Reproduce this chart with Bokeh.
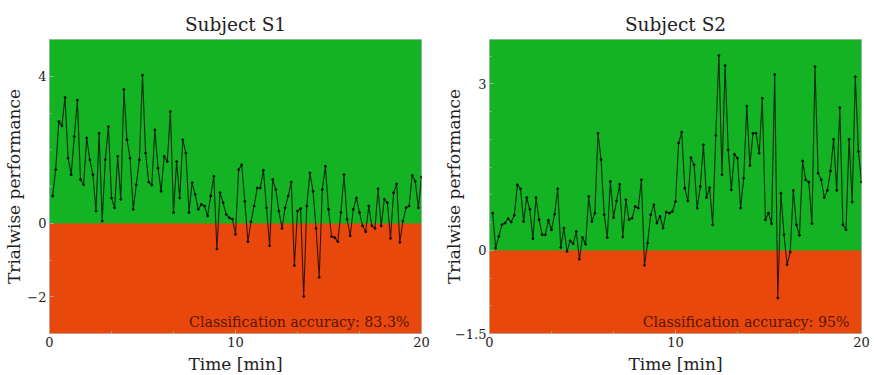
from bokeh.plotting import figure
from bokeh.layouts import row
from bokeh.models import BoxAnnotation, Label, FixedTicker, Range1d
from bokeh.embed import file_html
from bokeh.resources import INLINE

# Trialwise classifier output, one value per trial (10 s per trial, 20 min session)
s1_perf = [
    0.74, 1.46, 2.77, 2.65, 3.42, 1.77, 1.32, 2.36, 3.35, 1.19,
    1.05, 2.32, 1.73, 1.32, 0.33, 2.45, 0.06, 1.73, 2.63, 0.69,
    0.42, 1.82, 0.65, 3.64, 2.27, 1.77, 0.38, 1.05, 1.73, 4.03,
    1.91, 1.12, 1.04, 2.54, 1.50, 0.87, 1.82, 1.68, 3.04, 0.29,
    1.68, 0.69, 2.27, 1.91, 0.29, 1.10, 0.78, 0.38, 0.51, 0.47,
    0.20, 0.74, 1.28, -0.70, 0.83, 0.56, 0.24, 0.15, 0.11, -0.30,
    1.46, 1.59, 0.60, -0.50, 0.04, 0.47, 0.96, 0.96, 1.44, 0.42,
    -0.61, 1.19, 0.92, 0.33, -0.14, 0.42, 0.74, 1.12, -1.15, 0.33,
    0.40, -1.99, 0.47, 1.37, 0.87, -0.14, -1.47, 0.92, 1.55, 0.38,
    -0.36, -0.39, -0.50, 0.29, 1.32, 0.11, -0.34, 0.38, 0.69, 0.29,
    -0.07, -0.23, 0.47, -0.07, -0.14, 0.94, -0.07, 0.65, 0.56, -0.41,
    0.83, 1.07, -0.52, 0.06, 0.42, 0.47, 1.30, 1.14, 0.42, 1.26,
]
s2_perf = [
    0.67, 0.04, 0.25, 0.46, 0.49, 0.57, 0.51, 0.63, 1.18, 1.11,
    0.52, 0.95, 0.74, 0.21, 0.95, 0.55, 0.28, 0.28, 0.54, 0.37,
    0.65, 1.11, 0.05, 0.40, -0.02, 0.17, 0.12, 0.34, -0.16, 0.23,
    0.11, 0.97, 0.52, 0.67, 2.11, 1.63, 0.64, 0.23, 1.24, 0.59,
    0.89, 1.19, 0.24, 0.91, 0.55, 0.58, 0.79, 0.76, 1.27, -0.27,
    0.13, 0.64, 0.82, 0.49, 0.61, 0.40, 0.69, 0.67, 0.70, 0.88,
    1.93, 2.13, 1.12, 0.89, 1.67, 1.54, 0.76, 1.15, 1.90, 0.95,
    1.13, 0.46, 2.07, 3.51, 1.36, 3.33, 1.81, 1.09, 1.73, 1.66,
    0.76, 1.30, 2.60, 1.53, 2.11, 2.11, 1.75, 2.74, 0.55, 0.67,
    0.48, 3.17, -0.86, 1.03, 0.28, -0.26, -0.03, 1.08, 0.46, 0.27,
    1.61, 1.27, 1.23, 0.48, 3.31, 1.39, 1.27, 0.95, 1.08, 1.43,
    2.00, 1.08, 2.57, 0.46, 0.37, 2.00, 0.87, 3.13, 1.78, 1.23,
]

session_min = 20
x_major = [0, 10, 20]
x_minor = [10 / 3, 20 / 3, 40 / 3, 50 / 3]

GREEN = "#13b324"
RED = "#e8480b"
SERIF = "DejaVu Serif"
INK = "#1e1e1e"


def accuracy_text(perf):
    acc = 100.0 * sum(1 for v in perf if v > 0) / len(perf)
    s = f"{acc:.1f}".rstrip("0").rstrip(".")
    return f"Classification accuracy: {s}%"


def style_axis(ax, label_standoff):
    ax.axis_line_color = None
    ax.major_tick_in = 4
    ax.major_tick_out = 0
    ax.minor_tick_in = 2
    ax.minor_tick_out = 0
    ax.major_tick_line_color = "#a8a8a8"
    ax.minor_tick_line_color = "#a8a8a8"
    ax.major_label_text_font = SERIF
    ax.major_label_text_font_size = "13px"
    ax.major_label_text_color = INK
    ax.major_label_standoff = 3
    ax.axis_label_text_font = SERIF
    ax.axis_label_text_font_size = "17px"
    ax.axis_label_text_font_style = "normal"
    ax.axis_label_text_color = INK
    ax.axis_label_standoff = label_standoff


def panel(title, perf, y_lo, y_hi, y_major, y_minor, label_y, border_right, ylab_standoff):
    n = len(perf)
    t = [(i + 1) * session_min / n for i in range(n)]

    p = figure(
        frame_width=372, frame_height=294,
        x_range=Range1d(0, session_min), y_range=Range1d(y_lo, y_hi),
        min_border_left=49, min_border_right=border_right,
        min_border_top=39, min_border_bottom=42,
        output_backend="svg", toolbar_location=None, title=title,
    )
    p.background_fill_color = GREEN
    p.border_fill_color = "white"
    p.outline_line_color = "#b8b8b8"
    p.grid.grid_line_color = None

    p.title.align = "center"
    p.title.text_font = SERIF
    p.title.text_font_size = "18.5px"
    p.title.text_font_style = "normal"
    p.title.text_color = INK

    p.add_layout(BoxAnnotation(top=0, fill_color=RED, fill_alpha=1.0,
                               line_color=None, level="underlay"))
    p.add_layout(BoxAnnotation(bottom=0, fill_color=GREEN, fill_alpha=1.0,
                               line_color=None, level="underlay"))

    p.xaxis.ticker = FixedTicker(ticks=x_major, minor_ticks=x_minor)
    p.yaxis.ticker = FixedTicker(ticks=y_major, minor_ticks=y_minor)
    p.xaxis.axis_label = "Time [min]"
    p.yaxis.axis_label = "Trialwise performance"
    style_axis(p.xaxis[0], 4)
    style_axis(p.yaxis[0], ylab_standoff)

    p.line(t, perf, line_color="black", line_width=1.1, line_alpha=0.75)
    p.scatter(t, perf, size=2, color="black", alpha=0.8)

    p.add_layout(Label(
        x=session_min - 0.65, y=label_y, text=accuracy_text(perf),
        text_align="right", text_baseline="alphabetic",
        text_font=SERIF, text_font_size="14.2px", text_color="#5a1404",
    ))
    return p


p1 = panel("Subject S1", s1_perf, -3, 5, [-2, 0, 4],
           [-3, -1, 1, 2, 3, 5], -2.70, 19, 0)
p2 = panel("Subject S2", s2_perf, -1.5, 3.8, [-1.5, 0, 3],
           [-1, -0.5, 0.5, 1, 1.5, 2, 2.5, 3.5], -1.30, 13, -12)

layout = row(p1, p2)
open("out.html", "w").write(file_html(layout, INLINE))
